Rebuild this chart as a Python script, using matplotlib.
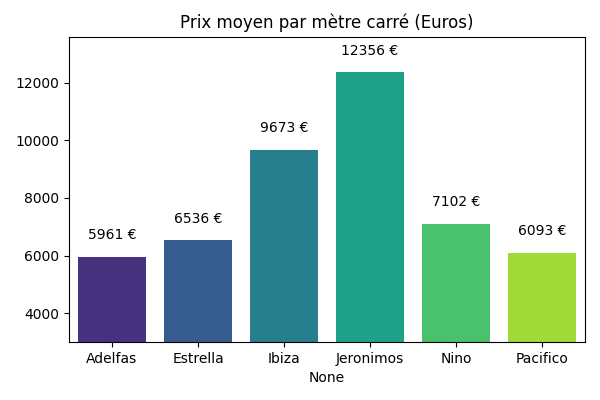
import matplotlib
matplotlib.use("Agg")
import matplotlib.pyplot as plt
import seaborn as sns

categories = ["Adelfas", "Estrella", "Ibiza", "Jeronimos", "Nino", "Pacifico"]
values = [5961, 6536, 9673, 12356, 7102, 6093]

fig, ax = plt.subplots(figsize=(6, 4), dpi=100)
colors = sns.color_palette("viridis", len(categories))
ax.bar(range(len(categories)), values, color=colors, width=0.8)
ax.set_xticks(range(len(categories)))
ax.set_xticklabels(categories)
ax.set_xlim(-0.5, len(categories) - 0.5)
ax.set_ylim(3000, max(values) * 1.1)
for i, v in enumerate(values):
    ax.text(i, v + 500, f"{v} €", ha="center", va="bottom")
ax.set_title("Prix moyen par mètre carré (Euros)")
ax.set_xlabel("None")
fig.subplots_adjust(left=0.115, right=0.975, top=0.908, bottom=0.145)
fig.savefig("out.png", dpi=100)
